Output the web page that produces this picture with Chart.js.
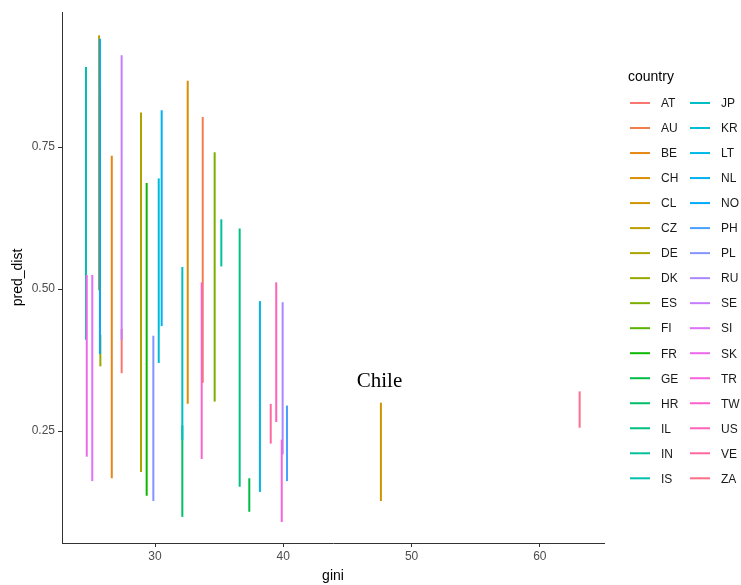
<!DOCTYPE html>
<html>
<head>
<meta charset="utf-8">
<script src="https://cdn.jsdelivr.net/npm/chart.js@4.4.1/dist/chart.umd.min.js"></script>
<style>
  html, body { margin: 0; padding: 0; background: #fff; }
  canvas { display: block; }
</style>
</head>
<body>
<canvas id="chart" width="741" height="585"></canvas>
<script>
// data
const countries = ['AT','AU','BE','CH','CL','CZ','DE','DK','ES','FI','FR','GE','HR','IL','IN','IS',
                   'JP','KR','LT','NL','NO','PH','PL','RU','SE','SI','SK','TR','TW','US','VE','ZA'];
const gini = [27.40, 33.72, 26.63, 32.55, 47.61, 25.64, 28.91, 25.74, 34.65, 25.71, 29.35, 37.35, 32.13, 36.60, 35.17, 24.62,
              32.13, 30.29, 38.18, 30.52, 25.71, 40.29, 29.87, 39.95, 27.40, 25.11, 24.68, 39.88, 33.64, 39.45, 39.02, 63.10];
const predLow = [0.352, 0.335, 0.167, 0.298, 0.127, 0.498, 0.178, 0.364, 0.302, 0.450, 0.136, 0.108, 0.099, 0.152, 0.540, 0.411,
                 0.234, 0.370, 0.143, 0.435, 0.386, 0.162, 0.127, 0.209, 0.411, 0.162, 0.205, 0.090, 0.201, 0.266, 0.228, 0.256];
const predHigh = [0.430, 0.803, 0.735, 0.867, 0.300, 0.947, 0.811, 0.420, 0.741, 0.850, 0.687, 0.167, 0.260, 0.607, 0.623, 0.891,
                  0.539, 0.695, 0.479, 0.815, 0.941, 0.295, 0.418, 0.477, 0.912, 0.525, 0.525, 0.235, 0.512, 0.512, 0.298, 0.320];
const xTicks = [30, 40, 50, 60];
const yTicks = [0.25, 0.50, 0.75];
const label = { text: 'Chile', x: 47.5, y: 0.338 };

// ggplot's default hue palette: hcl(h, c = 100, l = 65)
function hcl(h, c, l) {
    const hr = h * Math.PI / 180;
    const U = c * Math.cos(hr), V = c * Math.sin(hr);
    const Xn = 95.047, Yn = 100, Zn = 108.883;
    const den = Xn + 15 * Yn + 3 * Zn;
    const un = 4 * Xn / den, vn = 9 * Yn / den;
    const Y = Yn * Math.pow((l + 16) / 116, 3);
    const u = U / (13 * l) + un, v = V / (13 * l) + vn;
    const X = 9 * Y * u / (4 * v);
    const Z = Y * (12 - 3 * u - 20 * v) / (4 * v);
    const x = X / 100, y = Y / 100, z = Z / 100;
    const lin = [
        3.240479 * x - 1.537150 * y - 0.498535 * z,
        -0.969256 * x + 1.875992 * y + 0.041556 * z,
        0.055648 * x - 0.204043 * y + 1.057311 * z
    ];
    const hex = lin.map(t => {
        let s = t <= 0.0031308 ? 12.92 * t : 1.055 * Math.pow(t, 1 / 2.4) - 0.055;
        s = Math.round(Math.min(1, Math.max(0, s)) * 255);
        return s.toString(16).padStart(2, '0');
    });
    return '#' + hex.join('');
}
const colors = countries.map((c, i) => hcl(15 + i * 360 / countries.length, 100, 65));

const datasets = countries.map((c, i) => ({
    label: c,
    data: [{ x: gini[i], y: predLow[i] }, { x: gini[i], y: predHigh[i] }],
    borderColor: colors[i],
    backgroundColor: colors[i],
    borderWidth: 2,
    borderCapStyle: 'butt',
    pointRadius: 0,
    showLine: true,
    order: -i   // later countries on top, like ggplot
}));

const extras = {
    id: 'extras',
    afterDatasetsDraw(chart) {
        const ctx = chart.ctx;
        const xs = chart.scales.x, ys = chart.scales.y;
        ctx.save();
        ctx.fillStyle = '#000';
        ctx.font = '21px "Liberation Serif", "DejaVu Serif", serif';
        ctx.textAlign = 'center';
        ctx.textBaseline = 'middle';
        ctx.fillText(label.text, xs.getPixelForValue(label.x), ys.getPixelForValue(label.y));

        // legend, two columns like ggplot
        ctx.font = '14px "Liberation Sans", Arial, sans-serif';
        ctx.textAlign = 'left';
        ctx.fillStyle = '#000';
        ctx.fillText('country', 628, 77);
        ctx.font = '12px "Liberation Sans", Arial, sans-serif';
        const perCol = 16;
        countries.forEach((c, i) => {
            const col = Math.floor(i / perCol), row = i % perCol;
            const x0 = 630 + col * 60, y0 = 103 + row * 25.02;
            ctx.strokeStyle = colors[i];
            ctx.lineWidth = 2;
            ctx.beginPath();
            ctx.moveTo(x0, y0);
            ctx.lineTo(x0 + 20, y0);
            ctx.stroke();
            ctx.fillStyle = '#1a1a1a';
            ctx.fillText(c, x0 + 31, y0 + 1);
        });
        ctx.restore();
    }
};

new Chart(document.getElementById('chart'), {
    type: 'scatter',
    data: { datasets },
    options: {
        responsive: false,
        animation: false,
        layout: { padding: { left: 0, right: 137, top: 12, bottom: 0 } },
        plugins: { legend: { display: false }, tooltip: { enabled: false } },
        scales: {
            x: {
                type: 'linear',
                min: 22.75,
                max: 65,
                afterBuildTicks: (s) => { s.ticks = xTicks.map(v => ({ value: v })); },
                afterFit: (s) => { s.height = 42; },
                grid: { drawOnChartArea: false, drawTicks: true, tickLength: 4, tickColor: '#333', tickWidth: 1 },
                border: { display: true, color: '#333', width: 1 },
                ticks: { color: '#4d4d4d', font: { size: 12, family: '"Liberation Sans", Arial, sans-serif' }, padding: 2,
                         maxRotation: 0, callback: (v) => String(v) },
                title: { display: true, text: 'gini', color: '#000', padding: 0,
                         font: { size: 14, family: '"Liberation Sans", Arial, sans-serif' } }
            },
            y: {
                type: 'linear',
                min: 0.053,
                max: 0.988,
                afterBuildTicks: (s) => { s.ticks = yTicks.map(v => ({ value: v })); },
                afterFit: (s) => { s.width = 62; },
                grid: { drawOnChartArea: false, drawTicks: true, tickLength: 4, tickColor: '#333', tickWidth: 1 },
                border: { display: true, color: '#333', width: 1 },
                ticks: { color: '#4d4d4d', font: { size: 12, family: '"Liberation Sans", Arial, sans-serif' }, padding: 3,
                         callback: (v) => v.toFixed(2) },
                title: { display: true, text: 'pred_dist', color: '#000', padding: { top: 10, bottom: 0 },
                         font: { size: 14, family: '"Liberation Sans", Arial, sans-serif' } }
            }
        }
    },
    plugins: [extras]
});
</script>
</body>
</html>
